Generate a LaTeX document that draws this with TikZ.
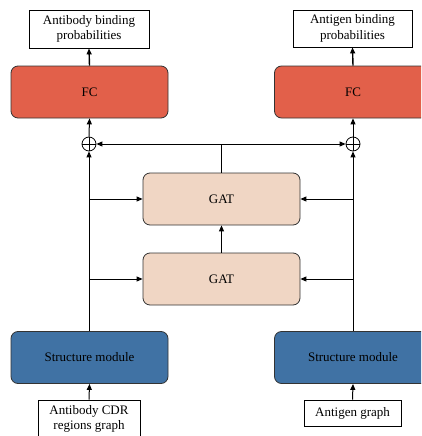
\documentclass[tikz,border=0pt]{standalone}
\usepackage{fontspec}
\setmainfont{Liberation Serif}
\usetikzlibrary{arrows.meta}
\definecolor{fcRed}{RGB}{226,96,74}
\definecolor{gatPeach}{RGB}{240,214,196}
\definecolor{smBlue}{RGB}{64,114,164}
\begin{document}
\begin{tikzpicture}[x=1pt, y=-1pt, font=\fontsize{13}{15.6}\selectfont, ioStyle/.style={rectangle, draw, line width=0.8pt, align=center, inner sep=0pt}, blockStyle/.style={rectangle, rounded corners=7pt, draw=black!80, line width=0.8pt, minimum width=157pt, minimum height=52pt}, sumStyle/.style={circle, draw, line width=0.8pt, minimum size=14pt, inner sep=0pt, path picture={\draw[line width=0.8pt] (path picture bounding box.north) -- (path picture bounding box.south) (path picture bounding box.west) -- (path picture bounding box.east);}}, arrowStyle/.style={-{Triangle[length=6pt,width=5pt]}, line width=1pt}]
                    \useasboundingbox (0,0) rectangle (421,436);
                    \clip (0,0) rectangle (421,436);

                    \node[ioStyle, minimum width=120pt, minimum height=38pt] (abOut) at (89, 29) {Antibody binding\\probabilities};
                    \node[ioStyle, minimum width=119pt, minimum height=37pt] (agOut) at (352.5, 28.5) {Antigen binding\\probabilities};

                    \node[blockStyle, fill=fcRed] (abFC) at (89.5, 92) {FC};
                    \node[blockStyle, fill=fcRed] (agFC) at (353, 92) {FC};

                    \node[sumStyle] (abSum) at (89, 144) {};
                    \node[sumStyle] (agSum) at (353, 144) {};

                    \node[blockStyle, fill=gatPeach] (gat1) at (221.5, 199) {GAT};
                    \node[blockStyle, fill=gatPeach] (gat2) at (221.5, 279) {GAT};

                    \node[blockStyle, fill=smBlue] (abSM) at (89.5, 357.5) {Structure module};
                    \node[blockStyle, fill=smBlue] (agSM) at (353, 357.5) {Structure module};

                    \node[ioStyle, minimum width=102pt, minimum height=38pt] (abIn) at (89, 419) {Antibody CDR\\regions graph};
                    \node[ioStyle, minimum width=97pt, minimum height=26pt] (agIn) at (352.5, 413) {Antigen graph};

                    \draw[arrowStyle] (abIn.north) -- (abSM.south);
                    \draw[arrowStyle] (agIn.north) -- (agSM.south);
                    \draw[arrowStyle] (abSM.north -| abSum.south) -- (abSum.south);
                    \draw[arrowStyle] (agSM.north -| agSum.south) -- (agSum.south);

                    \draw[arrowStyle] (abSum.south |- gat1.west) -- (gat1.west);
                    \draw[arrowStyle] (abSum.south |- gat2.west) -- (gat2.west);
                    \draw[arrowStyle] (agSum.south |- gat1.east) -- (gat1.east);
                    \draw[arrowStyle] (agSum.south |- gat2.east) -- (gat2.east);
                    \draw[arrowStyle] (gat2.north) -- (gat1.south);

                    \draw[line width=1pt] (gat1.north) -- (gat1.north |- abSum.east);
                    \draw[arrowStyle] (gat1.north |- abSum.east) -- (abSum.east);
                    \draw[arrowStyle] (gat1.north |- agSum.west) -- (agSum.west);

                    \draw[arrowStyle] (abSum.north) -- (abFC.south);
                    \draw[arrowStyle] (agSum.north) -- (agFC.south);
                    \draw[arrowStyle, line width=1.4pt] (abFC.north) -- (abOut.south);
                    \draw[arrowStyle, line width=1.4pt] (agFC.north) -- (agOut.south);
                \end{tikzpicture}
\end{document}
